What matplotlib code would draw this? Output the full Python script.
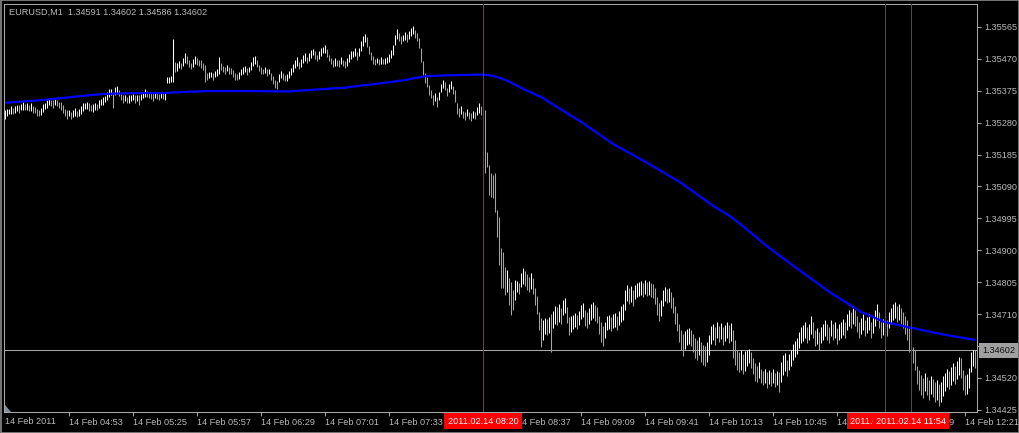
import numpy as np
import matplotlib
matplotlib.use("Agg")
import matplotlib.pyplot as plt
from matplotlib.patches import Rectangle, Polygon
from matplotlib.transforms import blended_transform_factory

# ---------------- data (prices in points, 1 point = 0.00001) ----------------
high_pts = [
    135319,135321,135322,135329,135323,135330,135331,135331,135335,135341,
    135334,135339,135332,135338,135330,135325,135322,135317,135324,135335,
    135338,135346,135351,135346,135347,135350,135348,135340,135340,135332,
    135321,135318,135317,135313,135318,135323,135314,135321,135328,135338,
    135338,135342,135337,135332,135335,135339,135334,135346,135351,135356,
    135360,135372,135380,135381,135371,135385,135389,135378,135365,135361,
    135363,135355,135361,135362,135366,135362,135361,135362,135366,135371,
    135379,135373,135372,135368,135367,135370,135369,135365,135370,135369,
    135371,135416,135417,135419,135530,135461,135458,135462,135458,135473,
    135486,135477,135465,135458,135469,135479,135471,135467,135466,135456,
    135452,135428,135430,135432,135428,135433,135440,135475,135456,135448,
    135447,135451,135446,135442,135437,135429,135424,135431,135439,135447,
    135448,135443,135447,135461,135474,135477,135465,135452,135446,135441,
    135445,135440,135441,135428,135418,135407,135405,135424,135434,135429,
    135421,135425,135435,135443,135455,135466,135474,135459,135470,135480,
    135487,135476,135486,135496,135500,135492,135482,135493,135501,135506,
    135511,135498,135482,135473,135465,135472,135467,135465,135475,135467,
    135462,135472,135484,135492,135494,135502,135489,135503,135522,135538,
    135545,135534,135509,135490,135477,135470,135472,135470,135474,135469,
    135473,135476,135483,135496,135510,135542,135558,135547,135537,135542,
    135550,135543,135553,135563,135568,135555,135547,135532,135501,135463,
    135427,135415,135392,135378,135361,135368,135356,135372,135395,135408,
    135401,135384,135394,135404,135390,135377,135339,135324,135329,135316,
    135311,135322,135312,135308,135315,135313,135326,135337,135330,135335,
    135318,135192,135154,135130,135124,135130,135020,134999,134907,134895,
    134850,134841,134817,134805,134782,134811,134808,134802,134832,134847,
    134838,134829,134820,134832,134817,134788,134764,134716,134698,134692,
    134698,134695,134701,134710,134719,134734,134731,134740,134728,134752,
    134758,134731,134701,134704,134707,134713,134707,134719,134737,134743,
    134722,134716,134728,134740,134746,134737,134731,134704,134686,134675,
    134686,134704,134707,134701,134710,134713,134704,134719,134734,134740,
    134782,134797,134788,134794,134782,134797,134802,134805,134808,134802,
    134811,134805,134808,134802,134799,134788,134761,134743,134752,134782,
    134791,134785,134788,134776,134761,134734,134713,134680,134663,134651,
    134660,134666,134669,134663,134651,134639,134633,134642,134627,134618,
    134615,134627,134648,134675,134680,134672,134686,134675,134683,134672,
    134677,134686,134677,134683,134663,134633,134603,134597,134603,134591,
    134600,134603,134606,134597,134579,134564,134555,134567,134546,134540,
    134546,134538,134543,134538,134546,134535,134540,134538,134567,134588,
    134594,134573,134591,134603,134621,134630,134639,134657,134672,134677,
    134686,134672,134680,134704,134686,134663,134669,134657,134672,134680,
    134692,134680,134672,134692,134680,134686,134669,134680,134686,134695,
    134686,134710,134722,134716,134728,134722,134704,134686,134698,134710,
    134692,134701,134710,134686,134701,134722,134740,134716,134686,134695,
    134701,134692,134716,134728,134740,134746,134734,134740,134728,134716,
    134704,134692,134669,134633,134612,134603,134555,134543,134529,134520,
    134535,134523,134514,134526,134517,134508,134514,134502,134508,134526,
    134535,134546,134540,134552,134564,134555,134570,134582,134579,134543,
    134529,134532,134549,134597,134603,134602,
]
low_pts = [
    135291,135301,135306,135305,135305,135310,135315,135309,135317,135317,
    135318,135319,135314,135314,135310,135309,135300,135299,135304,135311,
    135320,135324,135331,135330,135323,135332,135328,135324,135318,135308,
    135301,135292,135299,135291,135298,135299,135296,135301,135306,135314,
    135320,135322,135315,135314,135311,135319,135318,135324,135331,135332,
    135340,135346,135356,135361,135323,135363,135365,135358,135347,135339,
    135343,135339,135339,135344,135346,135338,135345,135332,135346,135353,
    135357,135357,135352,135350,135345,135354,135349,135347,135354,135349,
    135347,135398,135397,135401,135401,135430,135434,135442,135440,135449,
    135458,135455,135445,135440,135447,135453,135451,135449,135444,135436,
    135401,135408,135412,135416,135408,135415,135420,135424,135436,135430,
    135425,135433,135426,135424,135417,135407,135406,135411,135421,135425,
    135430,135423,135431,135437,135448,135455,135445,135434,135426,135425,
    135427,135420,135425,135408,135396,135383,135379,135400,135414,135407,
    135403,135405,135413,135423,135431,135444,135448,135439,135446,135458,
    135463,135456,135464,135472,135480,135470,135462,135469,135479,135486,
    135487,135476,135462,135455,135445,135450,135449,135445,135453,135449,
    135442,135450,135460,135470,135474,135478,135467,135477,135494,135508,
    135519,135506,135483,135466,135455,135452,135456,135452,135454,135453,
    135455,135456,135461,135472,135482,135510,135530,135523,135515,135522,
    135526,135521,135529,135537,135544,135533,135523,135502,135461,135423,
    135397,135387,135362,135352,135333,135344,135326,135346,135371,135382,
    135377,135358,135372,135380,135364,135341,135307,135298,135305,135294,
    135287,135300,135292,135284,135295,135291,135302,135309,135304,135290,
    135130,135148,135064,135059,135056,135014,134939,134856,134788,134788,
    134767,134776,134737,134707,134722,134752,134776,134770,134791,134799,
    134794,134782,134776,134785,134770,134737,134710,134663,134612,134633,
    134651,134648,134654,134597,134669,134680,134677,134686,134680,134707,
    134713,134683,134648,134657,134666,134672,134666,134677,134695,134701,
    134675,134669,134680,134692,134698,134689,134683,134651,134627,134615,
    134639,134663,134666,134660,134669,134672,134663,134677,134686,134692,
    134722,134749,134740,134746,134734,134755,134761,134764,134767,134761,
    134770,134764,134767,134761,134758,134740,134707,134689,134704,134734,
    134749,134743,134746,134728,134713,134680,134660,134627,134603,134585,
    134606,134618,134621,134615,134597,134579,134573,134588,134567,134558,
    134555,134567,134588,134621,134633,134618,134639,134627,134636,134618,
    134630,134639,134624,134630,134579,134558,134543,134538,134543,134532,
    134540,134555,134564,134549,134532,134511,134508,134520,134505,134499,
    134505,134490,134502,134496,134505,134493,134499,134478,134508,134529,
    134540,134526,134543,134555,134573,134582,134591,134609,134624,134630,
    134639,134624,134633,134651,134639,134615,134621,134603,134624,134633,
    134645,134633,134624,134645,134633,134639,134621,134633,134639,134648,
    134639,134663,134675,134669,134680,134675,134657,134639,134651,134663,
    134645,134654,134663,134639,134654,134675,134692,134669,134639,134648,
    134654,134645,134669,134680,134692,134698,134686,134692,134680,134669,
    134651,134633,134597,134573,134564,134543,134502,134484,134469,134460,
    134481,134469,134454,134472,134463,134448,134454,134436,134448,134466,
    134481,134493,134487,134499,134511,134502,134517,134529,134520,134484,
    134469,134472,134490,134538,134555,134549,
]

# moving average (bar index, price in points)
ma_idx = [0, 18, 38, 48, 65, 80, 88, 102, 122, 135, 142, 152, 162, 170, 176,
          185, 193, 200, 205, 210, 222, 239, 244, 251, 259, 268, 276, 288, 304,
          321, 338, 354, 363, 370, 380, 388, 397, 412, 428, 440, 453, 470, 485]
ma_pts = [135339, 135347, 135359, 135365, 135368, 135368, 135371, 135374, 135374,
          135373, 135373, 135377, 135381, 135384, 135389, 135395, 135401, 135407,
          135413, 135418, 135421, 135423, 135419, 135405, 135380, 135356, 135326,
          135282, 135216, 135160, 135100, 135032, 134999, 134966, 134916, 134880,
          134841, 134776, 134716, 134686, 134669, 134648, 134633]

y_ticks = [1.34425, 1.34520, 1.34615, 1.34710, 1.34805, 1.34900, 1.34995,
           1.35090, 1.35185, 1.35280, 1.35375, 1.35470, 1.35565]
x_tick_idx = [32, 64, 96, 128, 160, 192, 224, 256, 288, 320, 352, 384, 416, 448, 480]
x_tick_labels = ["14 Feb 04:53", "14 Feb 05:25", "14 Feb 05:57", "14 Feb 06:29",
                 "14 Feb 07:01", "14 Feb 07:33", "14 Feb 08:05", "14 Feb 08:37",
                 "14 Feb 09:09", "14 Feb 09:41", "14 Feb 10:13", "14 Feb 10:45",
                 "14 Feb 11:17", "14 Feb 11:49", "14 Feb 12:21"]
first_label = "14 Feb 2011"
vline_idx = [239, 440, 453]
vline_labels = ["2011.02.14 08:20", "2011.02.14 11:41", "2011.02.14 11:54"]
last_price = 1.34602
title = "EURUSD,M1  1.34591 1.34602 1.34586 1.34602"

# ---------------- drawing ----------------
FONT = ["Liberation Sans", "DejaVu Sans"]
FS = 6.6
GREY_TXT = "#b8b8b8"
GREY_LINE = "#a8a8a8"

high = np.array(high_pts) / 1e5
low = np.array(low_pts) / 1e5
n = min(len(high), len(low))
high, low = high[:n], low[:n]
idx = np.arange(n)
mid = (high + low) / 2
cols = ["#ffffff"] + ["#ffffff" if mid[i] >= mid[i - 1] else "#a4a4a4" for i in range(1, n)]

W, H = 1020, 433
fig = plt.figure(figsize=(W / 100, H / 100), dpi=100, facecolor="black")
ax = fig.add_axes([4 / W, 21 / H, 973 / W, 408 / H])
ax.set_facecolor("black")
ax.set_xlim(-0.5, 486)
ax.set_ylim(1.344185, 1.356331)

ax.vlines(idx, low, high, colors=cols, lw=0.75, zorder=2)
ax.plot(ma_idx, np.array(ma_pts) / 1e5, color="#0000ff", lw=1.6, zorder=3,
        solid_capstyle="butt")

ax.axhline(last_price, color=GREY_LINE, lw=0.75, zorder=1)
for vi in vline_idx:
    ax.axvline(vi, color="#ff0000", lw=0.75, zorder=4)

for s in ax.spines.values():
    s.set_color(GREY_LINE)
    s.set_linewidth(0.75)

ax.yaxis.tick_right()
ax.set_yticks(y_ticks)
ax.set_yticklabels([f"{v:.5f}" for v in y_ticks])
ax.set_xticks(x_tick_idx)
ax.set_xticklabels(x_tick_labels)
ax.tick_params(axis="both", direction="out", length=3, width=0.75, color=GREY_LINE,
               labelcolor=GREY_TXT, labelsize=FS)
ax.tick_params(axis="y", pad=2)
ax.tick_params(axis="x", pad=1.5)
for lab in ax.get_xticklabels() + ax.get_yticklabels():
    lab.set_family(FONT)
for lab in ax.get_xticklabels():
    lab.set_ha("left")

xt = blended_transform_factory(ax.transData, ax.transAxes)
ax.text(0, -0.0225, first_label, transform=xt, ha="left", va="center",
        color=GREY_TXT, fontsize=FS, family=FONT, clip_on=False)

# title
fig.text(9 / W, 1 - 12.5 / H, title, ha="left", va="center", color=GREY_TXT,
         fontsize=FS, family=FONT)

# last price label on the price axis
ax.annotate(f"{last_price:.5f}", xy=(1.0, last_price), xycoords=("axes fraction", "data"),
            xytext=(5, 0), textcoords="offset pixels", ha="left", va="center",
            color="#101010", fontsize=FS, family=FONT, zorder=10, annotation_clip=False,
            bbox=dict(boxstyle="square,pad=0.3", fc="#a0a0a0", ec="none"))

# red time labels of the vertical lines
for vi, lab in zip(vline_idx, vline_labels):
    ax.annotate(lab, xy=(vi, 0), xycoords=xt, xytext=(0, -9), textcoords="offset pixels",
                ha="center", va="center", color="white", fontsize=FS, family=FONT,
                zorder=10, annotation_clip=False,
                bbox=dict(boxstyle="square,pad=0.35", fc="#ff0000", ec="none"))

# small shift marker at bottom-left
fig.patches.append(Polygon([[5 / W, 21 / H], [5 / W, 28 / H], [11 / W, 21 / H]],
                           closed=True, transform=fig.transFigure, fc="#8090a0", ec="none"))
# window border
fig.patches.append(Rectangle((0.0005, 0.001), 0.999, 0.998, transform=fig.transFigure,
                             fill=False, ec="#8a8a8a", lw=1.2))

fig.savefig("out.png", dpi=100, facecolor="black")
